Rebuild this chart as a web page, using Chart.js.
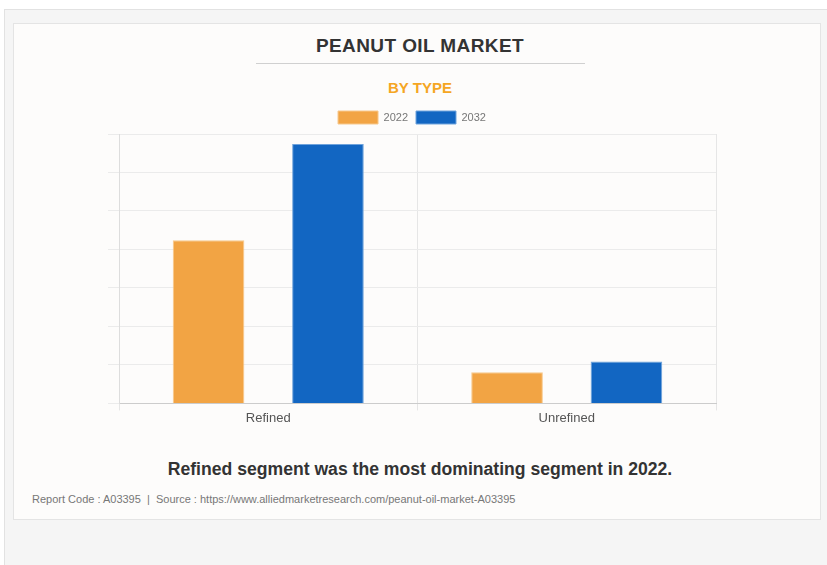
<!DOCTYPE html>
<html><head><meta charset="utf-8">
<script src="https://cdn.jsdelivr.net/npm/chart.js@4/dist/chart.umd.min.js"></script>
<style>
html,body{margin:0;padding:0;background:#fff;width:827px;height:565px;overflow:hidden;font-family:"Liberation Sans",Arial,sans-serif;}
#panel{position:absolute;left:4px;top:9px;width:830px;height:560px;background:#f5f5f5;border-top:1px solid #e2e2e2;border-left:1px solid #e2e2e2;}
#card{position:absolute;left:13px;top:23px;width:806px;height:495px;background:#fdfcfb;border:1px solid #e4e4e4;}
#title{position:absolute;left:0;width:840px;top:35px;text-align:center;font-weight:bold;font-size:19px;color:#333;letter-spacing:0.4px;}
#rule{position:absolute;left:256px;width:329px;top:63px;height:1px;background:#d0d0d0;}
#sub{position:absolute;left:0;width:840px;top:79px;text-align:center;font-weight:bold;font-size:15px;color:#f5a623;}
#note{position:absolute;left:0;width:840px;top:459px;text-align:center;font-weight:bold;font-size:17.6px;color:#333;}
#foot{position:absolute;left:32px;top:493px;font-size:11px;color:#777;}
#wrap{position:absolute;left:13px;top:103px;width:807px;height:323px;}
</style></head><body>
<div id="panel"></div>
<div id="card"></div>
<div id="title">PEANUT OIL MARKET</div>
<div id="rule"></div>
<div id="sub">BY TYPE</div>
<div id="wrap"><canvas id="c" width="807" height="323"></canvas></div>
<div id="note">Refined segment was the most dominating segment in 2022.</div>
<div id="foot">Report Code : A03395 &nbsp;|&nbsp; Source : https://www.alliedmarketresearch.com/peanut-oil-market-A03395</div>
<script>
const categories = ["Refined", "Unrefined"];
const seriesNames = ["2022", "2032"];
const values2022 = [4.24, 0.81];
const values2032 = [6.74, 1.09];
const yMax = 7;

new Chart(document.getElementById('c'), {
  type: 'bar',
  data: {
    labels: categories,
    datasets: [
      {label: seriesNames[0], data: values2022, backgroundColor: '#f2a444', borderColor: '#f7c88c', borderWidth: 1},
      {label: seriesNames[1], data: values2032, backgroundColor: '#1266c2', borderColor: '#6fa3dc', borderWidth: 1}
    ]
  },
  options: {
    responsive: false,
    animation: false,
    devicePixelRatio: 1,
    barPercentage: 0.6,
    categoryPercentage: 0.8,
    layout: {padding: {left: 95, right: 104, top: 0, bottom: 0}},
    plugins: {
      legend: {
        display: true,
        labels: {boxWidth: 40, boxHeight: 13, color: '#777', font: {family: 'Liberation Sans', size: 11}, padding: 8}
      },
      tooltip: {enabled: false}
    },
    scales: {
      x: {
        grid: {color: '#e6e6e6', tickLength: 7, offset: true},
        border: {color: '#cccccc'},
        ticks: {color: '#555', font: {family: 'Liberation Sans', size: 13}, padding: 0}
      },
      y: {
        min: 0, max: yMax,
        ticks: {display: false, stepSize: 1},
        grid: {color: '#ebebeb', tickLength: 11},
        border: {color: '#dddddd'}
      }
    }
  }
});
</script>
</body></html>
